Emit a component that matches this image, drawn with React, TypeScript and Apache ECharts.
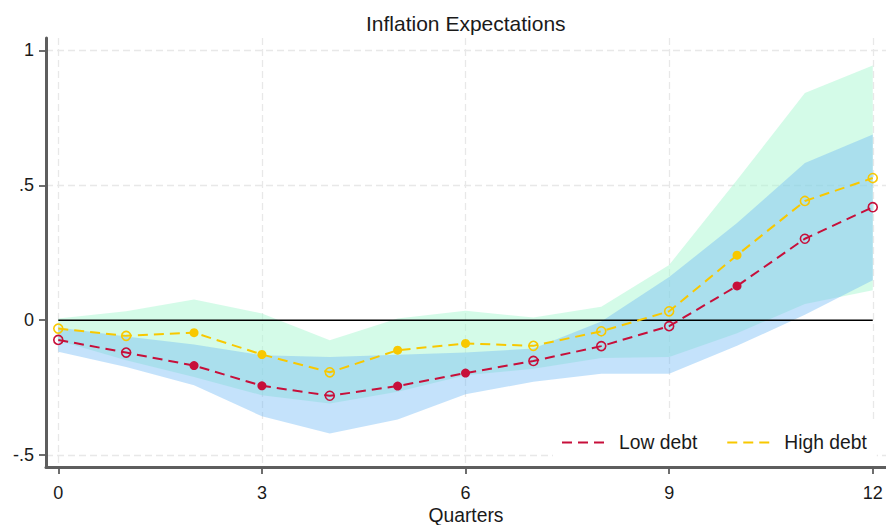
import React, { useEffect, useRef } from "react";
import * as echarts from "echarts";

// ---- data ----
const quarters = [0, 1, 2, 3, 4, 5, 6, 7, 8, 9, 10, 11, 12];

const lowDebt = [-0.073, -0.12, -0.168, -0.243, -0.28, -0.244, -0.196, -0.151, -0.096, -0.022, 0.127, 0.302, 0.419];
const highDebt = [-0.031, -0.058, -0.046, -0.127, -0.193, -0.111, -0.086, -0.095, -0.041, 0.033, 0.241, 0.442, 0.527];

// 1 = filled marker (significant), 0 = hollow marker
const lowSignificant = [0, 0, 1, 1, 0, 1, 1, 0, 0, 0, 1, 0, 0];
const highSignificant = [0, 0, 1, 1, 0, 1, 1, 0, 0, 0, 1, 0, 0];

const lowUpper = [-0.027, -0.06, -0.09, -0.13, -0.136, -0.128, -0.12, -0.105, -0.005, 0.16, 0.36, 0.583, 0.688];
const lowLower = [-0.117, -0.173, -0.241, -0.356, -0.42, -0.368, -0.274, -0.228, -0.198, -0.198, -0.095, 0.02, 0.148];
const highUpper = [0.006, 0.033, 0.077, 0.025, -0.074, 0.006, 0.035, 0.01, 0.05, 0.205, 0.52, 0.842, 0.944];
const highLower = [-0.075, -0.148, -0.21, -0.278, -0.309, -0.265, -0.204, -0.18, -0.14, -0.136, -0.048, 0.06, 0.111];

const xTicks = [0, 3, 6, 9, 12];
const xTickLabels = ["0", "3", "6", "9", "12"];
const yTicks = [-0.5, 0, 0.5, 1];
const yTickLabels = ["-.5", "0", ".5", "1"];

const xRange = [-0.181, 12.195];
const yRange = [-0.544, 1.046];

const seriesNames = ["Low debt", "High debt"];
const titleText = "Inflation Expectations";
const xTitle = "Quarters";

// ---- styles ----
const FONT = "'Liberation Sans', Arial, sans-serif";
const TEXT = "#1a1a1a";
const RED = "#c70f3a";
const YELLOW = "#f8c800";
const GRID = "#e8e8e8";
const AXIS = "#5e5e5e";

function bandSeries(lower: number[], upper: number[], fill: string, opacity: number, z: number) {
  return {
    type: "custom",
    silent: true,
    z,
    clip: true,
    encode: { x: 0, y: [1, 2] },
    data: quarters.map((q, i) => [q, lower[i], upper[i]]),
    renderItem: (params: any, api: any) => {
      if (params.dataIndex !== 0) return null;
      const pts: number[][] = [];
      for (let i = 0; i < quarters.length; i++) pts.push(api.coord([quarters[i], upper[i]]));
      for (let i = quarters.length - 1; i >= 0; i--) pts.push(api.coord([quarters[i], lower[i]]));
      return {
        type: "polygon",
        shape: { points: pts },
        style: { fill, opacity, stroke: null },
      };
    },
  };
}

function lineSeries(name: string, values: number[], sig: number[], color: string, z: number) {
  return {
    name,
    type: "line",
    z,
    symbol: "circle",
    symbolSize: 9,
    showSymbol: true,
    lineStyle: { color, width: 2, type: [10, 6] },
    itemStyle: { color },
    data: quarters.map((q, i) => ({
      value: [q, values[i]],
      itemStyle: sig[i]
        ? { color, borderColor: color, borderWidth: 0 }
        : { color: "rgba(0,0,0,0)", borderColor: color, borderWidth: 1.6 },
    })),
  };
}

export default function App() {
  const ref = useRef<HTMLDivElement>(null);

  useEffect(() => {
    if (!ref.current) return;
    const chart = echarts.init(ref.current, undefined, { renderer: "svg" });
    const axisLine = { show: true, onZero: false, lineStyle: { color: AXIS, width: 3, type: "solid", opacity: 1 } };
    const option: any = {
      animation: false,
      backgroundColor: "#ffffff",
      title: {
        text: titleText,
        left: 366,
        top: 13,
        padding: 0,
        textStyle: { fontFamily: FONT, fontSize: 21, fontWeight: "normal", color: TEXT },
      },
      grid: { left: 46, right: 0, top: 38, bottom: 58, containLabel: false, outerBoundsMode: "none" },
      legend: {
        data: seriesNames,
        left: 553,
        top: 420,
        padding: [13, 10, 12, 8],
        backgroundColor: "#ffffff",
        itemWidth: 45,
        itemHeight: 14,
        itemGap: 29,
        itemStyle: { opacity: 0 },
        textStyle: { fontFamily: FONT, fontSize: 19.3, color: TEXT, padding: [0, 0, 0, 7] },
      },
      xAxis: {
        type: "value",
        min: xRange[0],
        max: xRange[1],
        name: xTitle,
        nameLocation: "middle",
        nameGap: 37.5,
        nameTextStyle: { fontFamily: FONT, fontSize: 19.3, color: TEXT },
        axisLine,
        axisTick: { show: true, length: 7, lineStyle: { color: AXIS, width: 1.8 }, customValues: xTicks },
        axisLabel: {
          customValues: xTicks,
          margin: 16.5,
          fontFamily: FONT,
          fontSize: 18,
          color: TEXT,
          formatter: (v: number) => {
            const i = xTicks.findIndex((t) => Math.abs(t - v) < 1e-6);
            return i >= 0 ? xTickLabels[i] : "";
          },
        },
        splitLine: { show: true, lineStyle: { color: GRID, width: 1.3, type: [7, 4] } },
      },
      yAxis: {
        type: "value",
        min: yRange[0],
        max: yRange[1],
        axisLine,
        axisTick: { show: true, length: 7, lineStyle: { color: AXIS, width: 1.8 }, customValues: yTicks },
        axisLabel: {
          customValues: yTicks,
          margin: 12,
          fontFamily: FONT,
          fontSize: 18,
          color: TEXT,
          formatter: (v: number) => {
            const i = yTicks.findIndex((t) => Math.abs(t - v) < 1e-6);
            return i >= 0 ? yTickLabels[i] : "";
          },
        },
        splitLine: {
          show: true,
          lineStyle: { color: [GRID, "rgba(0,0,0,0)", GRID, GRID], width: 1.3, type: [7, 4] },
        },
      },
      series: [
        bandSeries(highLower, highUpper, "rgb(169,247,209)", 0.5, 1),
        bandSeries(lowLower, lowUpper, "rgb(107,182,245)", 0.4, 1),
        {
          name: "zero",
          type: "line",
          z: 2,
          silent: true,
          symbol: "none",
          lineStyle: { color: "#000000", width: 1.5, type: "solid" },
          data: [
            [quarters[0], 0],
            [quarters[quarters.length - 1], 0],
          ],
        },
        lineSeries(seriesNames[0], lowDebt, lowSignificant, RED, 3),
        lineSeries(seriesNames[1], highDebt, highSignificant, YELLOW, 4),
      ],
    };
    chart.setOption(option);
    return () => chart.dispose();
  }, []);

  return (
    <div
      ref={ref}
      style={{ position: "fixed", left: 0, top: 0, width: 886, height: 525, background: "#fff" }}
    />
  );
}
